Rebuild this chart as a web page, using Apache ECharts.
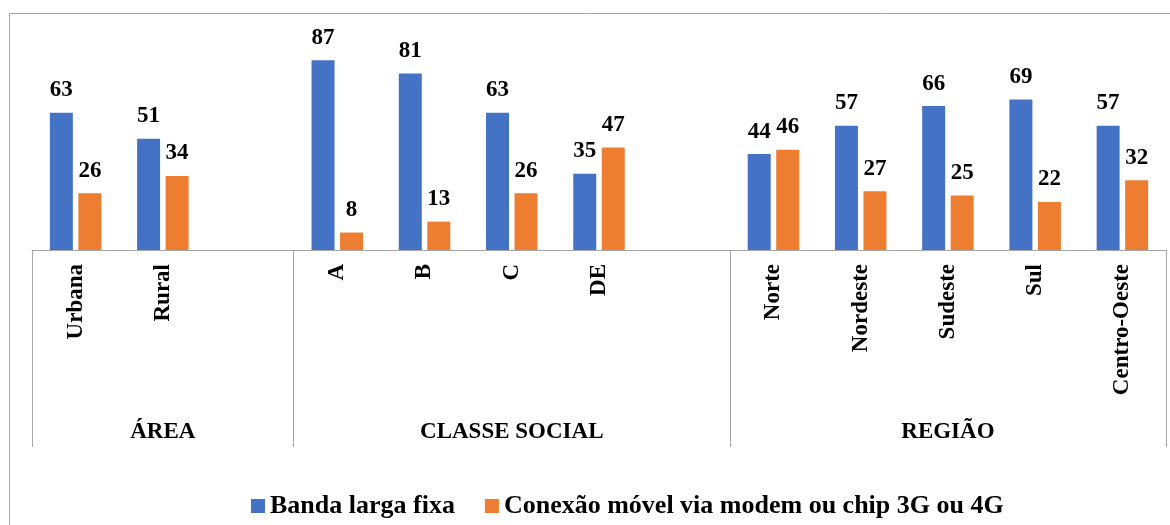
<!DOCTYPE html>
<html>
<head>
<meta charset="utf-8">
<script src="https://cdn.jsdelivr.net/npm/echarts@6/dist/echarts.min.js"></script>
<style>
  html, body { margin: 0; padding: 0; background: #fff; }
  #chart { width: 1170px; height: 525px; }
</style>
</head>
<body>
<div id="chart"></div>
<script>
// categorias (espaços vazios separam os grupos)
var categorias = ['Urbana', 'Rural', '', 'A', 'B', 'C', 'DE', '', 'Norte', 'Nordeste', 'Sudeste', 'Sul', 'Centro-Oeste'];
var bandaLarga = [63, 51, null, 87, 81, 63, 35, null, 44, 57, 66, 69, 57];
var conexaoMovel = [26, 34, null, 8, 13, 26, 47, null, 46, 27, 25, 22, 32];
var grupos = ['ÁREA', 'CLASSE SOCIAL', 'REGIÃO'];
var tamanhoGrupos = [3, 5, 5];
var nomesSeries = ['Banda larga fixa', 'Conexão móvel via modem ou chip 3G ou 4G'];

var fonte = '"Liberation Serif", "Times New Roman", serif';
var cinza = '#a6a6a6';

// rótulos do segundo nível e linhas divisórias
var inicioGrupos = [];
var rotulosGrupos = categorias.map(function () { return ''; });
var pos = 0;
for (var i = 0; i < grupos.length; i++) {
    inicioGrupos.push(pos);
    rotulosGrupos[pos + Math.floor(tamanhoGrupos[i] / 2)] = grupos[i];
    pos += tamanhoGrupos[i];
}

var rotulo = {
    show: true,
    position: 'top',
    distance: 11,
    color: '#000',
    fontFamily: fonte,
    fontWeight: 'bold',
    fontSize: 23
};

var option = {
    animation: false,
    graphic: [{
        type: 'rect',
        shape: { x: 9.5, y: 13.5, width: 1300, height: 700 },
        style: { fill: 'none', stroke: cinza, lineWidth: 1 },
        silent: true
    }],
    grid: { left: 32, right: 4, top: 32, bottom: 275 },
    legend: {
        data: nomesSeries,
        left: 246,
        top: 488,
        icon: 'rect',
        itemWidth: 14,
        itemHeight: 14,
        itemGap: 30,
        textStyle: { fontFamily: fonte, fontWeight: 'bold', fontSize: 26, color: '#000' }
    },
    xAxis: [{
        type: 'category',
        data: categorias,
        axisLine: { lineStyle: { color: cinza, width: 1 } },
        axisTick: {
            show: true,
            length: 197,
            interval: function (idx) { return inicioGrupos.indexOf(idx) >= 0; },
            lineStyle: { color: cinza, width: 1 }
        },
        axisLabel: {
            interval: 0,
            rotate: 90,
            margin: 14,
            color: '#000',
            fontFamily: fonte,
            fontWeight: 'bold',
            fontSize: 23
        }
    }, {
        type: 'category',
        data: rotulosGrupos,
        position: 'bottom',
        axisLine: { show: false },
        axisTick: { show: false },
        axisLabel: {
            interval: 0,
            margin: 171,
            color: '#000',
            fontFamily: fonte,
            fontWeight: 'bold',
            fontSize: 23
        }
    }],
    yAxis: {
        type: 'value',
        min: 0,
        max: 100,
        show: false,
        splitLine: { show: false }
    },
    series: [{
        name: nomesSeries[0],
        type: 'bar',
        data: bandaLarga,
        barWidth: 23,
        barGap: '24%',
        itemStyle: { color: '#4472C4' },
        label: rotulo
    }, {
        name: nomesSeries[1],
        type: 'bar',
        data: conexaoMovel,
        barWidth: 23,
        barGap: '24%',
        itemStyle: { color: '#ED7D31' },
        label: rotulo
    }]
};

var grafico = echarts.init(document.getElementById('chart'));
grafico.setOption(option);
</script>
</body>
</html>
